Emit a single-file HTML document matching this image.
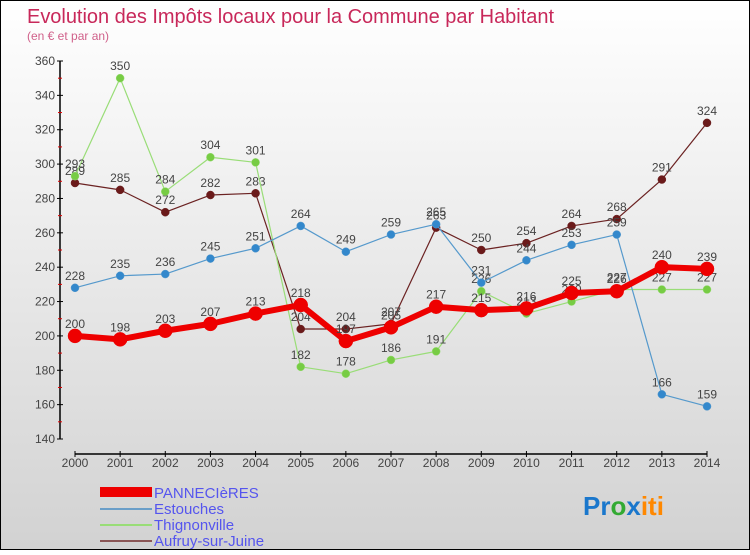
<!DOCTYPE html>
<html><head><meta charset="utf-8"><style>
html,body{margin:0;padding:0}
body{width:750px;height:550px;overflow:hidden;font-family:"Liberation Sans",sans-serif}
</style></head><body>
<svg width="750" height="550" xmlns="http://www.w3.org/2000/svg">
<defs><linearGradient id="bg" x1="0" y1="0" x2="0" y2="1"><stop offset="0" stop-color="#ffffff"/><stop offset="1" stop-color="#d2d2d2"/></linearGradient></defs>
<rect x="0.5" y="0.5" width="749" height="549" fill="url(#bg)" stroke="#000"/>
<text x="27" y="23" font-size="20" fill="#c8285a" textLength="527">Evolution des Impôts locaux pour la Commune par Habitant</text>
<text x="27" y="40" font-size="12" fill="#d0608a">(en € et par an)</text>
<g id="axes"></g><g id="series"></g>
<g>
<rect x="100" y="487" width="52" height="10" fill="#ee0000"/>
<text x="154" y="498" font-size="15" fill="#5555ee">PANNECIèRES</text>
<line x1="100" y1="509" x2="152" y2="509" stroke="#6a9ec8" stroke-width="2"/>
<text x="154" y="514" font-size="15" fill="#5555ee">Estouches</text>
<line x1="100" y1="525" x2="152" y2="525" stroke="#99dd77" stroke-width="2"/>
<text x="154" y="530" font-size="15" fill="#5555ee">Thignonville</text>
<line x1="100" y1="541" x2="152" y2="541" stroke="#8a5555" stroke-width="2"/>
<text x="154" y="546" font-size="15" fill="#5555ee">Aufruy-sur-Juine</text>
</g>
<text x="583" y="515" font-size="26" font-weight="bold"><tspan fill="#1a77cc">Pr</tspan><tspan fill="#33aa33">o</tspan><tspan fill="#1a77cc">x</tspan><tspan fill="#ff8800">iti</tspan></text>
</svg>
<script>
const years=["2000","2001","2002","2003","2004","2005","2006","2007","2008","2009","2010","2011","2012","2013","2014"];
const yTicks=[140,160,180,200,220,240,260,280,300,320,340,360];
const pannecieres=[200,198,203,207,213,218,197,205,217,215,216,225,226,240,239];
const estouches=[228,235,236,245,251,264,249,259,265,231,244,253,259,166,159];
const thignonville=[293,350,284,304,301,182,178,186,191,226,213,220,227,227,227];
const aufruy=[289,285,272,282,283,204,204,207,263,250,254,264,268,291,324];
const NS="http://www.w3.org/2000/svg";
const xS=i=>75+i*(707-75)/14;
const yS=v=>439-(v-140)*(378/220);
function mk(t,a,p){const e=document.createElementNS(NS,t);for(const k in a)e.setAttribute(k,a[k]);p.appendChild(e);return e;}
const ax=document.getElementById('axes');
let l=mk('line',{x1:60,y1:yS(360),x2:60,y2:yS(140),stroke:'#000','stroke-width':1.5},ax);


l=mk('line',{x1:75,y1:454,x2:707,y2:454,stroke:'#000','stroke-width':1.5},ax);


yTicks.forEach(v=>{mk('line',{x1:57,y1:yS(v),x2:63,y2:yS(v),stroke:'#000'},ax);
if(v<360)mk('line',{x1:58,y1:yS(v+10),x2:62,y2:yS(v+10),stroke:'#d00'},ax);
const t=mk('text',{x:55,y:yS(v)+4,'text-anchor':'end','font-size':12,fill:'#444'},ax);t.textContent=v;

});
years.forEach((y,i)=>{mk('line',{x1:xS(i),y1:451,x2:xS(i),y2:457,stroke:'#000'},ax);
const t=mk('text',{x:xS(i),y:467,'text-anchor':'middle','font-size':12,fill:'#444'},ax);t.textContent=y;

});
const sg=document.getElementById('series');
function draw(name,data,col,dot,w,r){const g=mk('g',{},sg);


mk('polyline',{points:data.map((v,i)=>xS(i)+','+yS(v)).join(' '),fill:'none',stroke:col,'stroke-width':w,'stroke-linejoin':'round'},g);
data.forEach((v,i)=>{const c=mk('circle',{cx:xS(i),cy:yS(v),r:r,fill:dot,stroke:col,'stroke-width':0.5},g);


const t=mk('text',{x:xS(i),y:yS(v)-8,'text-anchor':'middle','font-size':12,fill:'#444'},g);t.textContent=v;

});}
draw('aufruy',aufruy,'#6b2222','#6b1a1a',1.2,4);
draw('thignonville',thignonville,'#99dd77','#77cc44',1.2,4);
draw('estouches',estouches,'#5599cc','#3388cc',1.2,4);
draw('pannecieres',pannecieres,'#ee0000','#ee0000',6,7);
</script>
</body></html>
